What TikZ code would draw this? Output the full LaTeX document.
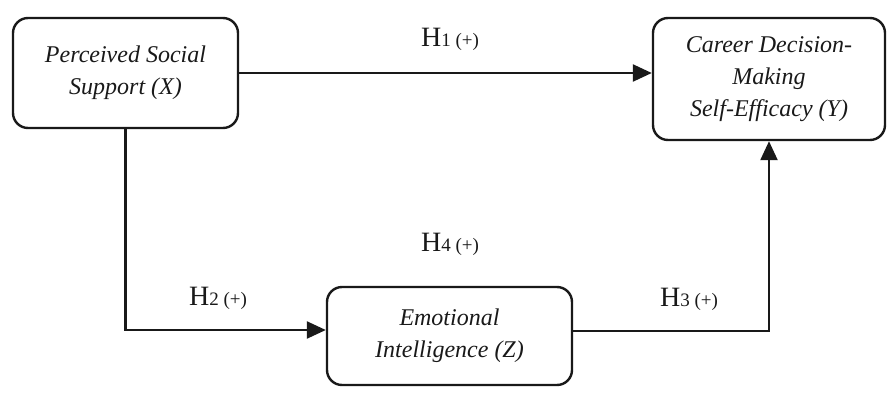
\documentclass[tikz,border=0pt]{standalone}
\usepackage{fontspec}
\setmainfont{Liberation Serif}
\usetikzlibrary{arrows.meta}
\tikzset{
  box/.style={draw=black!90, line width=2.4pt, rounded corners=15pt, align=center,
    font=\fontsize{24}{32}\selectfont\itshape, inner sep=0pt, text=black!90},
  conn/.style={draw=black!90, line width=2.4pt, -{Triangle[length=19pt,width=17pt]}},
  hlab/.style={font=\fontsize{28}{30}\selectfont, inner sep=0pt, text=black!90}
}
\newcommand{\hyp}[1]{H{\fontsize{19}{20}\selectfont#1 (+)}}
\begin{document}
\begin{tikzpicture}[x=1pt,y=-1pt]
\useasboundingbox (0,0) rectangle (889,399);
\node[box, minimum width=225pt, minimum height=110pt] (X) at (125.5,73) {Perceived Social\\Support (X)};
\node[box, minimum width=232pt, minimum height=122pt] (Y) at (769,79) {Career Decision-\\Making\\Self-Efficacy (Y)};
\node[box, minimum width=245pt, minimum height=98pt] (Z) at (449.5,336) {Emotional\\Intelligence (Z)};
\draw[conn] (X.east) -- (X.east -| Y.west);
\draw[conn] (X.south) |- ([yshift=6pt]Z.west);
\draw[conn] ([yshift=5pt]Z.east) -| (Y.south);
\node[hlab] (h1) at (450,39) {\hyp{1}};
\node[hlab] (h4) at (450,244) {\hyp{4}};
\node[hlab] (h2) at (218,298) {\hyp{2}};
\node[hlab] (h3) at (689,299) {\hyp{3}};
\end{tikzpicture}
\end{document}
